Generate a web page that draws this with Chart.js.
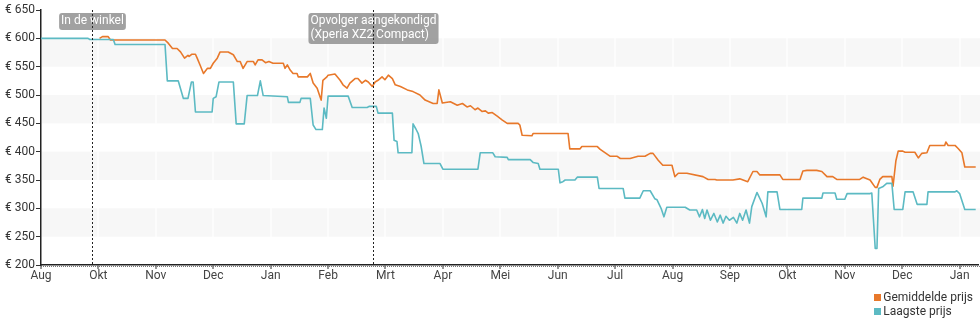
<!DOCTYPE html>
<html lang="nl">
<head>
<meta charset="utf-8">
<title>Prijsverloop</title>
<script src="https://cdn.jsdelivr.net/npm/chart.js@4/dist/chart.umd.min.js"></script>
<style>
  html, body { margin: 0; padding: 0; background: #fff; }
  #wrap { position: relative; width: 980px; height: 325px; font-family: Roboto, "Noto Sans", sans-serif; }
  #legend { position: absolute; right: 7px; top: 290px; font-size: 12px; color: #333; line-height: 14px; }
  #legend div { display: flex; align-items: center; }
  #legend span.sw { display: inline-block; width: 7px; height: 7px; margin-right: 2px; }
</style>
</head>
<body>
<div id="wrap">
  <canvas id="chart" width="980" height="325"></canvas>
  <div id="legend"></div>
</div>
<script>
// Month labels along the time axis (one tick per month, position 0 = axis start)
const monthLabels = ['Aug', 'Okt', 'Nov', 'Dec', 'Jan', 'Feb', 'Mrt', 'Apr', 'Mei', 'Jun', 'Jul', 'Aug', 'Sep', 'Okt', 'Nov', 'Dec', 'Jan'];

// Average price (time in months since axis start, price in euro)
const avgTime = [1.02, 1.07, 1.17, 1.21, 2.16, 2.22, 2.29, 2.37, 2.43, 2.50, 2.56, 2.58, 2.63, 2.69, 2.72, 2.77, 2.83, 2.90, 2.95, 3.00,
  3.07, 3.12, 3.26, 3.35, 3.42, 3.47, 3.52, 3.59, 3.70, 3.73, 3.78, 3.85, 3.91, 3.97, 4.04, 4.17, 4.22, 4.25, 4.29, 4.34,
  4.39, 4.46, 4.48, 4.64, 4.69, 4.74, 4.81, 4.86, 4.88, 4.91, 4.98, 5.00, 5.12, 5.21, 5.26, 5.33, 5.38, 5.47, 5.52, 5.59,
  5.65, 5.70, 5.77, 5.82, 5.87, 5.94, 5.99, 6.05, 6.12, 6.17, 6.26, 6.38, 6.48, 6.60, 6.69, 6.83, 6.90, 6.93, 6.99, 7.13,
  7.25, 7.34, 7.42, 7.48, 7.56, 7.61, 7.68, 7.74, 7.79, 7.86, 7.94, 8.03, 8.12, 8.31, 8.34, 8.38, 8.55, 8.57, 9.18, 9.21,
  9.39, 9.42, 9.69, 9.74, 9.91, 10.03, 10.09, 10.26, 10.40, 10.52, 10.61, 10.66, 10.75, 10.83, 10.99, 11.04, 11.10, 11.25, 11.53, 11.62,
  11.74, 11.77, 12.05, 12.17, 12.31, 12.40, 12.47, 12.52, 12.87, 12.92, 13.22, 13.27, 13.34, 13.51, 13.60, 13.69, 13.79, 13.86, 14.26, 14.32,
  14.44, 14.53, 14.56, 14.61, 14.66, 14.82, 14.84, 14.89, 14.93, 15.01, 15.05, 15.22, 15.28, 15.34, 15.43, 15.48, 15.74, 15.76, 15.80, 15.92,
  15.97, 16.04, 16.09, 16.28];
const avgPrice = [600, 603, 603, 597, 597, 591, 582, 582, 576, 565, 570, 568, 572, 572, 565, 553, 538, 547, 547, 556,
  565, 576, 576, 571, 559, 559, 547, 559, 559, 553, 562, 562, 557, 559, 556, 556, 556, 547, 553, 544,
  538, 538, 532, 532, 538, 521, 512, 497, 491, 526, 532, 535, 537, 526, 518, 512, 521, 529, 529, 521,
  526, 523, 515, 523, 526, 532, 527, 535, 529, 518, 515, 509, 506, 500, 491, 485, 485, 509, 486, 488,
  482, 485, 479, 481, 474, 477, 471, 472, 468, 469, 463, 456, 450, 450, 447, 429, 428, 432, 432, 405,
  405, 409, 409, 404, 392, 392, 388, 388, 392, 392, 397, 397, 385, 376, 376, 356, 362, 362, 356, 351,
  351, 350, 350, 352, 347, 365, 365, 359, 359, 351, 351, 366, 367, 367, 365, 356, 356, 351, 351, 355,
  350, 337, 337, 351, 356, 356, 339, 384, 401, 401, 399, 399, 389, 397, 398, 411, 411, 417, 411, 411,
  406, 398, 373, 373];

// Lowest price (time in months since axis start, price in euro)
const lowTime = [0, 0.82, 0.85, 1.26, 1.29, 2.16, 2.20, 2.39, 2.48, 2.56, 2.62, 2.65, 2.69, 2.98, 3.00, 3.05, 3.10, 3.35, 3.40, 3.54,
  3.59, 3.77, 3.82, 3.87, 4.29, 4.31, 4.51, 4.53, 4.69, 4.74, 4.79, 4.90, 4.93, 4.97, 5.00, 5.35, 5.42, 5.68, 5.72, 5.84,
  5.87, 6.12, 6.15, 6.20, 6.22, 6.46, 6.48, 6.53, 6.57, 6.62, 6.67, 6.95, 7.00, 7.61, 7.65, 7.87, 7.91, 8.12, 8.14, 8.52,
  8.57, 8.66, 8.69, 9.01, 9.04, 9.09, 9.13, 9.30, 9.34, 9.69, 9.72, 10.14, 10.17, 10.43, 10.49, 10.61, 10.69, 10.73, 10.80, 10.85,
  10.90, 11.22, 11.30, 11.42, 11.47, 11.52, 11.56, 11.60, 11.66, 11.72, 11.78, 11.83, 11.88, 11.93, 11.99, 12.06, 12.12, 12.17, 12.22, 12.28,
  12.34, 12.38, 12.47, 12.56, 12.63, 12.66, 12.82, 12.87, 13.25, 13.27, 13.60, 13.62, 13.83, 13.86, 14.00, 14.04, 14.44, 14.47, 14.53, 14.56,
  14.59, 14.66, 14.73, 14.82, 14.86, 15.01, 15.05, 15.19, 15.26, 15.43, 15.45, 15.92, 15.95, 16.00, 16.09, 16.28];
const lowPrice = [600, 600, 598, 598, 589, 589, 525, 525, 494, 494, 523, 523, 470, 470, 494, 497, 523, 523, 449, 449,
  499, 499, 525, 499, 497, 487, 487, 494, 494, 447, 439, 439, 477, 459, 498, 498, 478, 478, 480, 480,
  468, 468, 420, 418, 398, 398, 449, 440, 432, 410, 379, 379, 369, 369, 398, 398, 391, 390, 386, 386,
  381, 379, 369, 369, 345, 347, 350, 350, 355, 355, 335, 335, 318, 318, 331, 331, 317, 315, 300, 285,
  302, 302, 297, 297, 285, 298, 282, 297, 279, 291, 276, 288, 274, 286, 279, 284, 274, 291, 279, 297,
  274, 303, 328, 309, 285, 329, 329, 298, 298, 318, 318, 327, 327, 316, 316, 326, 326, 327, 229, 229,
  335, 338, 344, 344, 298, 298, 329, 329, 307, 307, 329, 329, 331, 326, 298, 298];

// Price bounds and step of the value axis
const priceMin = 200;
const priceMax = 650;
const priceStep = 50;

// Marked events on the time axis
const eventTime = [0.89, 5.78];
const eventText = [['In de winkel'], ['Opvolger aangekondigd', '(Xperia XZ2 Compact)']];

const seriesNames = ['Gemiddelde prijs', 'Laagste prijs'];
const seriesColors = ['#e8782a', '#5cbac3'];

const FONT = 'Roboto, "Noto Sans", sans-serif';
const toPoints = (xs, ys) => xs.map((x, i) => ({ x, y: ys[i] }));

// Alternating horizontal bands behind the plot
const bandsPlugin = {
  id: 'bands',
  beforeDraw(chart) {
    const { ctx, chartArea } = chart;
    const y = chart.scales.y;
    ctx.save();
    ctx.fillStyle = '#f7f7f7';
    for (let v = priceMax - priceStep; v > priceMin; v -= 2 * priceStep) {
      const top = y.getPixelForValue(v);
      const bot = y.getPixelForValue(v - priceStep);
      ctx.fillRect(chartArea.left, top, chartArea.right - chartArea.left + 2, bot - top);
    }
    ctx.restore();
  }
};

// Dotted rule under the time axis, event lines and their labels
const overlayPlugin = {
  id: 'overlay',
  afterDatasetsDraw(chart) {
    const { ctx, chartArea } = chart;
    const x = chart.scales.x;
    ctx.save();
    // fine dotted rule just below the axis line
    ctx.strokeStyle = '#777';
    ctx.lineWidth = 1;
    ctx.setLineDash([1, 1]);
    ctx.beginPath();
    ctx.moveTo(chartArea.left, chartArea.bottom + 1.5);
    ctx.lineTo(chartArea.right + 2, chartArea.bottom + 1.5);
    ctx.stroke();

    ctx.font = '12px ' + FONT;
    ctx.textBaseline = 'middle';
    eventTime.forEach((t, i) => {
      const px = Math.round(x.getPixelForValue(t)) + 0.5;
      const lines = eventText[i];
      const w = Math.max(...lines.map(s => ctx.measureText(s).width)) + 4;
      const h = lines.length * 14 + 3;
      const bx = px - w / 2;
      const by = chartArea.top + 3;
      ctx.setLineDash([]);
      ctx.fillStyle = 'rgba(140,140,140,0.82)';
      ctx.beginPath();
      ctx.roundRect(bx, by, w, h, 3);
      ctx.fill();
      ctx.fillStyle = '#ffffff';
      ctx.textAlign = 'left';
      lines.forEach((s, k) => ctx.fillText(s, bx + 2, by + 8 + k * 14));
      ctx.strokeStyle = '#222';
      ctx.setLineDash([2, 2]);
      ctx.beginPath();
      ctx.moveTo(px, chartArea.top);
      ctx.lineTo(px, chartArea.bottom);
      ctx.stroke();
    });
    ctx.restore();
  }
};

new Chart(document.getElementById('chart'), {
  type: 'line',
  data: {
    datasets: [
      { label: seriesNames[0], data: toPoints(avgTime, avgPrice), borderColor: seriesColors[0], order: 1 },
      { label: seriesNames[1], data: toPoints(lowTime, lowPrice), borderColor: seriesColors[1], order: 0 }
    ]
  },
  options: {
    responsive: false,
    animation: false,
    events: [],
    layout: { padding: { top: 10, right: 2, bottom: 0, left: 0 } },
    elements: {
      line: { borderWidth: 1.6, tension: 0, fill: false, borderJoinStyle: 'round' },
      point: { radius: 0 }
    },
    plugins: { legend: { display: false }, tooltip: { enabled: false } },
    scales: {
      x: {
        type: 'linear',
        min: 0,
        max: 16.32,
        afterFit(scale) { scale.height = 60; },
        afterBuildTicks(scale) { scale.ticks = monthLabels.map((_, i) => ({ value: i })); },
        ticks: {
          autoSkip: false, maxRotation: 0, padding: 0,
          color: '#444', font: { family: FONT, size: 12 },
          callback: v => monthLabels[v]
        },
        grid: { color: 'rgba(255,255,255,0.6)', lineWidth: 2, tickColor: '#333', tickLength: 4, tickWidth: 1 },
        border: { color: '#222', width: 1.5 }
      },
      y: {
        min: priceMin,
        max: priceMax,
        afterFit(scale) { scale.width = 41; },
        ticks: {
          stepSize: priceStep, padding: 1,
          color: '#333', font: { family: FONT, size: 12 },
          callback: v => '€ ' + v
        },
        grid: { drawOnChartArea: false, tickColor: '#333', tickLength: 5, tickWidth: 1 },
        border: { color: '#222', width: 1.5 }
      }
    }
  },
  plugins: [bandsPlugin, overlayPlugin]
});

// Legend below the plot, one series per row
const legend = document.getElementById('legend');
seriesNames.forEach((name, i) => {
  const row = document.createElement('div');
  const sw = document.createElement('span');
  sw.className = 'sw';
  sw.style.background = seriesColors[i];
  row.appendChild(sw);
  row.appendChild(document.createTextNode(name));
  legend.appendChild(row);
});
</script>
</body>
</html>
